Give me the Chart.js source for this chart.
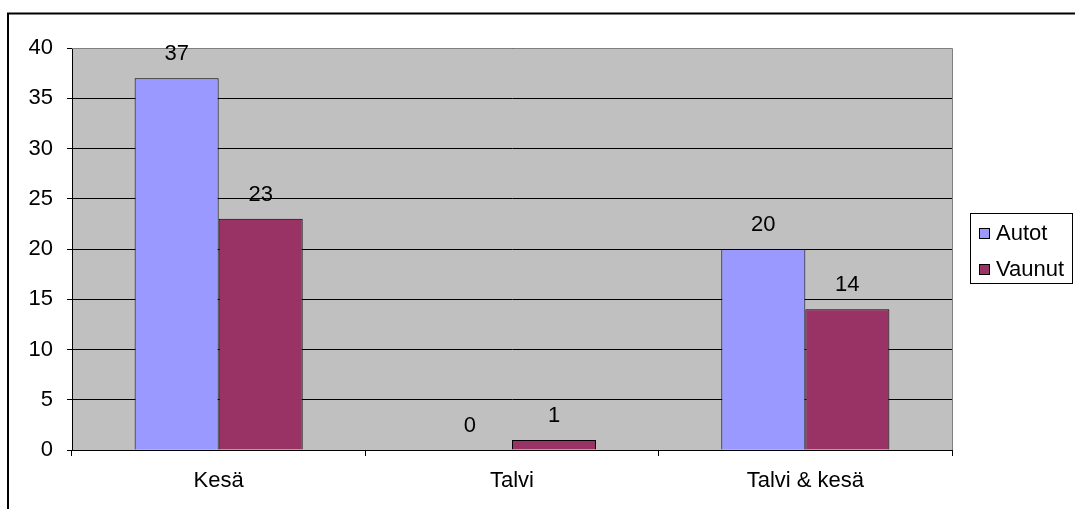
<!DOCTYPE html>
<html>
<head>
<meta charset="utf-8">
<title>Autot ja vaunut</title>
<script src="https://cdn.jsdelivr.net/npm/chart.js@4"></script>
<style>
  html, body { margin: 0; padding: 0; background: #ffffff; }
  #wrap { width: 1075px; height: 509px; position: relative; }
</style>
</head>
<body>
<div id="wrap"><canvas id="chart" width="1075" height="509"></canvas></div>
<script>
// Season categories and the counts for each series
const categories = ['Kesä', 'Talvi', 'Talvi & kesä'];
const autot = [37, 0, 20];
const vaunut = [23, 1, 14];
const seriesNames = ['Autot', 'Vaunut'];
const yTicks = [0, 5, 10, 15, 20, 25, 30, 35, 40];

const FONT = { family: '"Liberation Sans", Arial, sans-serif', size: 22 };
const colors = ['#9999FF', '#993366'];

// Frame around the whole figure plus the grey plot background
const framePlugin = {
  id: 'frame',
  beforeDraw(chart) {
    const { ctx, chartArea: a } = chart;
    ctx.save();
    ctx.fillStyle = '#ffffff';
    ctx.fillRect(0, 0, chart.width, chart.height);
    ctx.strokeStyle = '#000000';
    ctx.lineWidth = 2;
    ctx.strokeRect(8, 13.5, chart.width + 20, chart.height + 20);
    ctx.fillStyle = '#C0C0C0';
    ctx.fillRect(a.left, a.top, a.right - a.left, a.bottom - a.top);
    ctx.restore();
  },
  afterDatasetsDraw(chart) {
    const { ctx, chartArea: a } = chart;
    ctx.save();
    ctx.strokeStyle = '#808080';
    ctx.lineWidth = 1;
    ctx.beginPath();
    ctx.moveTo(a.left, a.top + 0.5);
    ctx.lineTo(a.right + 0.5, a.top + 0.5);
    ctx.lineTo(a.right + 0.5, a.bottom);
    ctx.stroke();
    ctx.restore();
  }
};

// Value labels above each bar
const valueLabels = {
  id: 'valueLabels',
  afterDatasetsDraw(chart) {
    const { ctx } = chart;
    ctx.save();
    ctx.font = FONT.size + 'px ' + FONT.family;
    ctx.fillStyle = '#000000';
    ctx.textAlign = 'center';
    ctx.textBaseline = 'middle';
    chart.data.datasets.forEach((ds, i) => {
      chart.getDatasetMeta(i).data.forEach((bar, j) => {
        ctx.fillText(String(ds.data[j]), bar.x, bar.y - 24);
      });
    });
    ctx.restore();
  }
};

// Boxed legend on the right
const boxLegend = {
  id: 'boxLegend',
  afterDraw(chart) {
    const { ctx } = chart;
    ctx.save();
    ctx.strokeStyle = '#000000';
    ctx.lineWidth = 1;
    ctx.strokeRect(970.5, 213.5, 102, 70);
    ctx.font = FONT.size + 'px ' + FONT.family;
    ctx.textBaseline = 'middle';
    ctx.textAlign = 'left';
    const rows = [233, 269];
    chart.data.datasets.forEach((ds, i) => {
      const y = rows[i];
      ctx.fillStyle = ds.backgroundColor;
      ctx.fillRect(979, y - 5, 11, 11);
      ctx.strokeStyle = '#000000';
      ctx.strokeRect(979.5, y - 4.5, 10, 10);
      ctx.fillStyle = '#000000';
      ctx.fillText(ds.label, 996, y + 1);
    });
    ctx.restore();
  }
};

new Chart(document.getElementById('chart'), {
  type: 'bar',
  data: {
    labels: categories,
    datasets: [
      { label: seriesNames[0], data: autot, backgroundColor: colors[0], borderColor: '#000000', borderWidth: 1 },
      { label: seriesNames[1], data: vaunut, backgroundColor: colors[1], borderColor: '#000000', borderWidth: 1 }
    ]
  },
  options: {
    responsive: false,
    animation: false,
    devicePixelRatio: 1,
    layout: { padding: { left: 12, top: 48, right: 123, bottom: 19 } },
    categoryPercentage: 0.573,
    barPercentage: 1.0,
    plugins: {
      legend: { display: false },
      tooltip: { enabled: false }
    },
    scales: {
      x: {
        offset: true,
        grid: { display: true, drawOnChartArea: false, offset: true, color: '#000000', tickLength: 6, lineWidth: 1 },
        border: { display: true, color: '#000000', width: 1 },
        ticks: { color: '#000000', font: FONT, padding: 12 },
        afterFit(s) { s.height = 40; }
      },
      y: {
        min: 0,
        max: 40,
        afterBuildTicks(s) { s.ticks = yTicks.map(v => ({ value: v })); },
        grid: { color: '#000000', tickLength: 5, lineWidth: 1 },
        border: { display: true, color: '#000000', width: 1 },
        ticks: { color: '#000000', font: FONT, padding: 14 },
        afterFit(s) { s.width = 60; }
      }
    }
  },
  plugins: [framePlugin, valueLabels, boxLegend]
});
</script>
</body>
</html>
